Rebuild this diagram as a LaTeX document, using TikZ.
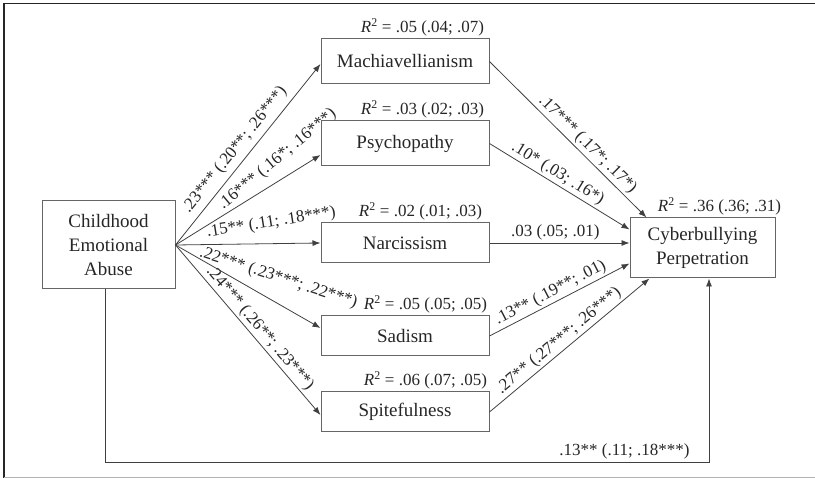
\documentclass[tikz,border=0pt]{standalone}
\usepackage{fontspec}
\setmainfont{Liberation Serif}
\usetikzlibrary{arrows.meta}

\begin{document}
\begin{tikzpicture}[x=1pt, y=-1pt, >={Latex[length=8pt,width=6pt]}, line width=0.8pt,
  main box/.style={rectangle, draw=black!60, line width=1pt, minimum width=168pt, minimum height=40pt, inner sep=0pt, font=\fontsize{19}{24}\selectfont, text=black!85},
  coef/.style={font=\fontsize{17}{20}\selectfont, inner sep=2pt, text=black!85},
  rsq/.style={coef, anchor=south east}]
\useasboundingbox (0,0) rectangle (815,478);
\draw[line width=1.5pt, black!85] (815,3.5) -- (4,3.5) -- (4,478);
\draw[black!30] (4,477) -- (815,477);

\node [main box, minimum width=133pt, minimum height=88pt, align=center](cea) at (108.5,245) {Childhood\\Emotional\\Abuse};
\node [main box, minimum height=45pt](mach) at (405,61.5) {Machiavellianism};
\node [main box, minimum height=45pt](psych) at (405,143.5) {Psychopathy};
\node [main box](narc) at (405,243) {Narcissism};
\node [main box](sad) at (405,336) {Sadism};
\node [main box](spite) at (405,412) {Spitefulness};
\node [main box, minimum width=145pt, minimum height=60pt, align=center](cyber) at (702.5,248) {Cyberbullying\\Perpetration};

% R-squared values
\node [rsq](r1) at ([xshift=-3pt]mach.north east) {\textit{R}\textsuperscript{2} = .05 (.04; .07)};
\node [rsq](r2) at ([xshift=-3pt]psych.north east) {\textit{R}\textsuperscript{2} = .03 (.02; .03)};
\node [rsq](r3) at ([xshift=-5pt]narc.north east) {\textit{R}\textsuperscript{2} = .02 (.01; .03)};
\node [rsq](r4) at (sad.north east) {\textit{R}\textsuperscript{2} = .05 (.05; .05)};
\node [rsq](r5) at (spite.north east) {\textit{R}\textsuperscript{2} = .06 (.07; .05)};
\node [rsq](r6) at ([xshift=8pt]cyber.north east) {\textit{R}\textsuperscript{2} = .36 (.36; .31)};

% paths from childhood abuse
\path[->, black!75]
	(cea.east) edge node[coef, sloped, above=3pt, pos=0.48] {.23*** (.20**; .26***)} ([yshift=-2.5pt]mach.west)
	(cea.east) edge node[coef, sloped, above=9pt, pos=0.78, rotate=8] {.16*** (.16*; .16***)} ([yshift=-11.5pt]psych.west)
	(cea.east) edge node[coef, pos=0.66, yshift=21pt, rotate=9] {.15** (.11; .18***)} (narc.west)
	(cea.east) edge node[coef, pos=0.71, yshift=26pt, rotate=-18] {.22*** (.23***; .22***)} ([yshift=8pt]sad.west)
	(cea.east) edge node[coef, sloped, above, pos=0.53] {.24*** (.26**; .23***)} ([yshift=-3pt]spite.west)
	;
% paths to cyberbullying
\path[->, black!75]
	(mach.east) edge node[coef, sloped, above, pos=0.58] {.17*** (.17*; .17*)} ([xshift=17pt]cyber.north west)
	(psych.east) edge node[coef, sloped, above, pos=0.45] {.10* (.03; .16*)} ([yshift=-12pt]cyber.north west)
	(narc.east) edge node[coef, above, pos=0.47] {.03 (.05; .01)} (cyber.west |- narc.east)
	(sad.east) edge node[coef, sloped, above, pos=0.47] {.13** (.19**; .01)} ([yshift=15pt]cyber.south west)
	(spite.east) edge node[coef, sloped, above, pos=0.475] {.27** (.27***; .26***)} ([xshift=20pt]cyber.south west)
	;

\coordinate (low) at (105,462);
\draw[->, black!75] (cea.south -| low) -- (low) -| node[coef, above, pos=0.43] {.13** (.11; .18***)} ([xshift=6.5pt]cyber.south);
\end{tikzpicture}
\end{document}
